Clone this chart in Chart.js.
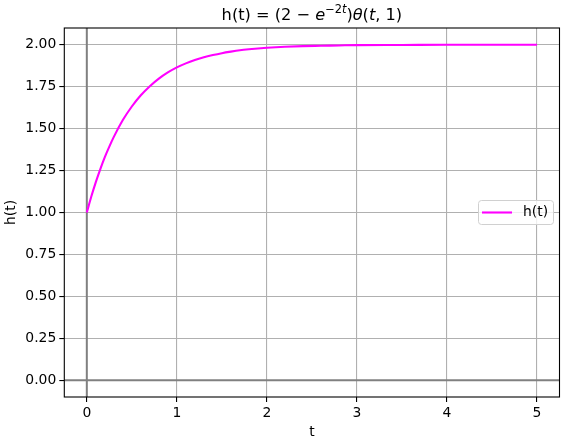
<!DOCTYPE html>
<html><head><meta charset="utf-8">
<script src="https://cdn.jsdelivr.net/npm/chart.js@4.4.1/dist/chart.umd.min.js"></script>
<style>html,body{margin:0;padding:0;background:#fff}#wrap{width:564px;height:440px}</style>
</head><body><div id="wrap"><canvas id="c" width="564" height="440"></canvas></div>
<script>
const tValues = [0,0.05,0.1,0.15,0.2,0.25,0.3,0.4,0.5,0.6,0.7,0.8,0.9,1.0,1.1,1.2,1.3,1.4,1.5,1.6,1.7,1.8,1.9,2.0,2.2,2.4,2.6,2.8,3.0,3.5,4.0,4.5,5.0];
const hValues = [1.000,1.095,1.181,1.259,1.330,1.393,1.451,1.551,1.632,1.699,1.753,1.798,1.835,1.865,1.889,1.909,1.926,1.939,1.950,1.959,1.967,1.973,1.978,1.982,1.988,1.992,1.994,1.996,1.998,1.999,2.000,2.000,2.000];
const xTicks = [0,1,2,3,4,5];
const yTicks = [0,0.25,0.5,0.75,1.0,1.25,1.5,1.75,2.0];
const seriesLabel = 'h(t)';
const xLabel = 't';
const yLabel = 'h(t)';

const FONT = '"DejaVu Sans", sans-serif';
const points = tValues.map((t,i)=>({x:t,y:hValues[i]}));

const deco = {
  id:'deco',
  beforeDatasetsDraw(chart){
    const {ctx, chartArea:a, scales:{x,y}} = chart;
    ctx.save();
    ctx.strokeStyle = '#808080'; ctx.lineWidth = 2;
    const x0 = x.getPixelForValue(0), y0 = y.getPixelForValue(0);
    ctx.beginPath(); ctx.moveTo(a.left,y0); ctx.lineTo(a.right,y0); ctx.stroke();
    ctx.beginPath(); ctx.moveTo(x0,a.top); ctx.lineTo(x0,a.bottom); ctx.stroke();
    ctx.restore();
  },
  afterDraw(chart){
    const {ctx, chartArea:a} = chart;
    ctx.save();
    ctx.strokeStyle = '#000'; ctx.lineWidth = 1.1;
    ctx.strokeRect(a.left, a.top, a.right-a.left, a.bottom-a.top);
    const cx = (a.left+a.right)/2, by = 20;
    const F = 16.2, S = 11.4;
    const segs = [
      ['h(t) = (2 \u2212 ', 'normal', F, 0],
      ['e', 'italic', F, 0],
      ['\u22122', 'normal', S, -7],
      ['t', 'italic', S, -7],
      [')', 'normal', F, 0],
      ['\u03B8', 'italic', F, 0],
      ['(', 'normal', F, 0],
      ['t', 'italic', F, 0],
      [', 1)', 'normal', F, 0]
    ];
    let total = 0;
    segs.forEach(s=>{ ctx.font = s[1]+' '+s[2]+'px '+FONT; total += ctx.measureText(s[0]).width; });
    let px = cx - total/2;
    ctx.fillStyle = '#000'; ctx.textBaseline = 'alphabetic'; ctx.textAlign = 'left';
    segs.forEach(s=>{ ctx.font = s[1]+' '+s[2]+'px '+FONT; ctx.fillText(s[0], px, by+s[3]); px += ctx.measureText(s[0]).width; });
    ctx.font = '13.9px '+FONT; ctx.textAlign = 'center'; ctx.textBaseline = 'middle';
    ctx.fillText(xLabel, cx, 432);
    ctx.save(); ctx.translate(11, (a.top+a.bottom)/2); ctx.rotate(-Math.PI/2);
    ctx.fillText(yLabel, 0, 0); ctx.restore();
    const lx = 478.5, ly = 200.5, lw = 75, lh = 24, r = 3;
    ctx.fillStyle = 'rgba(255,255,255,0.8)'; ctx.strokeStyle = '#d0d0d0'; ctx.lineWidth = 1;
    ctx.beginPath(); ctx.roundRect(lx, ly, lw, lh, r); ctx.fill(); ctx.stroke();
    ctx.strokeStyle = '#ff00ff'; ctx.lineWidth = 2.1;
    ctx.beginPath(); ctx.moveTo(482, 212.5); ctx.lineTo(512, 212.5); ctx.stroke();
    ctx.fillStyle = '#000'; ctx.textAlign = 'left'; ctx.textBaseline = 'middle';
    ctx.fillText(seriesLabel, 523, 212.5);
    ctx.restore();
  }
};

new Chart(document.getElementById('c'), {
  type:'line',
  data:{datasets:[{label:seriesLabel, data:points, borderColor:'#ff00ff', borderWidth:2.1, pointRadius:0, fill:false, cubicInterpolationMode:'monotone'}]},
  options:{
    responsive:false, animation:false, devicePixelRatio:1,
    layout:{padding:{top:28, right:4.5, left:0, bottom:0}},
    plugins:{legend:{display:false}, title:{display:false}, tooltip:{enabled:false}},
    scales:{
      x:{type:'linear', min:-0.25, max:5.25,
        afterBuildTicks(s){ s.ticks = xTicks.map(v=>({value:v})); },
        afterFit(s){ s.height = 43; },
        grid:{color:'#b0b0b0', lineWidth:1.1, tickColor:'#000', tickLength:5, drawTicks:true},
        border:{display:false},
        ticks:{color:'#000', font:{family:FONT, size:13.9}, padding:3, maxRotation:0, callback:v=>String(v)}
      },
      y:{type:'linear', min:-0.1, max:2.1,
        afterBuildTicks(s){ s.ticks = yTicks.map(v=>({value:v})); },
        afterFit(s){ s.width = 64.3; },
        grid:{color:'#b0b0b0', lineWidth:1.1, tickColor:'#000', tickLength:5, drawTicks:true},
        border:{display:false},
        ticks:{color:'#000', font:{family:FONT, size:13.9}, padding:3, callback:v=>v.toFixed(2)}
      }
    }
  },
  plugins:[deco]
});
</script></body></html>
